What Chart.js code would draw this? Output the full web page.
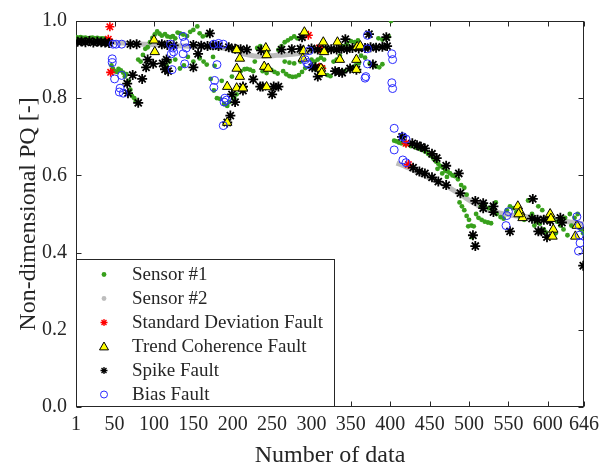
<!DOCTYPE html>
<html><head><meta charset="utf-8">
<script src="https://cdn.jsdelivr.net/npm/chart.js@4.4.0/dist/chart.umd.min.js"></script>
<style>html,body{margin:0;padding:0;background:#fff;}canvas{display:block;}</style>
</head><body>
<canvas id="c" width="605" height="470"></canvas>
<script>
const xTicks = [1,50,100,150,200,250,300,350,400,450,500,550,600,646];
const yTicks = [0,0.2,0.4,0.6,0.8,1.0];
const legendLabels = ['Sensor #1','Sensor #2','Standard Deviation Fault','Trend Coherence Fault','Spike Fault','Bias Fault'];

const sensor1 = [
[1,0.958],[4,0.957],[7,0.958],[10,0.956],[13,0.957],[16,0.955],[19,0.956],[22,0.957],[25,0.955],[28,0.956],[31,0.954],[34,0.955],[37,0.954],[40,0.953],[43,0.952],
[46,0.885],[48,0.876],[50,0.87],[53,0.868],[55,0.876],[58,0.872],[61,0.866],[63,0.856],[65,0.862],[68,0.845],[70,0.822],[72,0.806],[75,0.8],[77,0.792],
[80,0.9],[83,0.895],[86,0.912],[89,0.928],[92,0.932],[95,0.945],[98,0.956],[101,0.965],[104,0.973],[107,0.967],[110,0.962],[114,0.966],[117,0.96],[121,0.958],[124,0.961],[127,0.955],[130,0.97],[133,0.968],[137,0.965],[142,0.961],[146,0.972],[150,0.977],[155,0.986],[158,0.968],[162,0.96],[167,0.963],[171,0.97],
[112,0.89],[116,0.885],[120,0.895],[127,0.9],[133,0.877],[138,0.885],[143,0.907],[150,0.895],[158,0.903],[163,0.895],[167,0.887],[175,0.907],[177,0.884],
[172,0.85],[176,0.82],[180,0.8],[184,0.798],[186,0.845],[189,0.785],[193,0.78],[196,0.79],[199,0.856],[202,0.8],[205,0.81],
[210,0.87],[215,0.875],[218,0.876],[222,0.874],[226,0.87],[228,0.895],[231,0.93],[235,0.935],[240,0.925],[244,0.92],[249,0.873],[253,0.868],[257,0.864],[238,0.87],[243,0.865],
[258,0.925],[262,0.935],[266,0.945],[270,0.95],[274,0.955],[278,0.96],[282,0.955],[264,0.87],[268,0.862],[272,0.857],[276,0.855],[280,0.856],[284,0.86],[288,0.868],[292,0.878],[266,0.895],[272,0.892],[278,0.89],[286,0.895],
[300,0.9],[304,0.895],[308,0.9],[312,0.905],[316,0.9],[320,0.86],[324,0.857],[328,0.895],[332,0.9],[336,0.91],[340,0.935],[345,0.94],[350,0.948],[355,0.945],[359,0.95],[363,0.91],[368,0.905],[374,0.89],[378,0.888],[382,0.882],[386,0.88],[390,0.888],[385,0.955],[390,0.952],[394,0.955],[398,0.96],[401,1.0],[342,0.87],[348,0.875],[352,0.88],[356,0.885],[360,0.89],[330,0.925],[336,0.93],[305,0.875],[310,0.87],[315,0.88],
[405,0.69],[408,0.688],[411,0.685],[414,0.683],[420,0.68],[426,0.676],[432,0.672],[438,0.668],[444,0.662],[448,0.656],[452,0.65],[455,0.643],[458,0.636],[461,0.63],[464,0.624],[467,0.62],[470,0.612],[473,0.61],[476,0.605],[479,0.6],[482,0.598],[486,0.59],[490,0.575],[494,0.568],[497,0.55],[460,0.617],[466,0.605],[472,0.596],
[488,0.53],[491,0.52],[494,0.51],[497,0.495],[500,0.485],[503,0.47],[506,0.468],[499,0.468],[504,0.44],[509,0.5],[512,0.49],[516,0.485],[520,0.48],[524,0.478],[528,0.476],[515,0.52],[520,0.525],[525,0.515],[530,0.51],[535,0.5],[540,0.492],[544,0.488],[548,0.51],[552,0.52],[556,0.515],[534,0.53],
[560,0.505],[565,0.49],[570,0.485],[575,0.535],[580,0.5],[585,0.48],[590,0.475],[595,0.46],[598,0.452],[602,0.49],[607,0.485],[612,0.48],[616,0.47],[620,0.46],[625,0.445],[630,0.47],[634,0.49],[638,0.5],[642,0.46],[645,0.45],[610,0.45],[622,0.49],[628,0.5],[583,0.47],[588,0.52],[593,0.51]
];

const sensor2 = [
[1,0.952],[6,0.951],[11,0.95],[16,0.95],[21,0.949],[26,0.949],[31,0.948],[36,0.947],[41,0.946],[46,0.945],[51,0.944],[56,0.943],[61,0.943],[66,0.942],[71,0.942],[76,0.941],[81,0.941],[86,0.94],[91,0.94],[96,0.939],[101,0.939],[106,0.938],[111,0.938],[116,0.937],[121,0.937],[126,0.936],[131,0.936],[136,0.935],[141,0.935],[146,0.934],[151,0.934],[156,0.934],[161,0.933],[166,0.933],[171,0.932],[176,0.932],[181,0.931],[186,0.93],[191,0.929],[196,0.927],[201,0.925],[206,0.921],[211,0.917],[216,0.914],[221,0.912],[226,0.91],[231,0.909],[236,0.909],[241,0.909],[246,0.91],[251,0.91],[256,0.911],[261,0.911],[266,0.912],[271,0.913],[276,0.914],[281,0.915],[286,0.916],[291,0.918],[296,0.92],[301,0.922],[306,0.923],[311,0.924],[316,0.925],[321,0.926],[326,0.927],[331,0.927],[336,0.928],[341,0.929],[346,0.929],[351,0.93],[356,0.93],[361,0.931],[366,0.931],[371,0.932],[376,0.932],[381,0.933],[386,0.933],[391,0.934],[396,0.934],[400,0.935],
[404,null],
[408,0.632],[412,0.629],[416,0.626],[420,0.622],[424,0.619],[428,0.615],[432,0.611],[436,0.607],[440,0.603],[444,0.599],[448,0.595],[452,0.592],[456,0.588],[460,0.584],[464,0.58],[468,0.576],[472,0.572],[476,0.567],[480,0.562],[484,0.557],[488,0.552],[492,0.547],[496,0.541],[500,0.536],[504,0.531],[508,0.526],[512,0.521],[516,0.517],[520,0.513],[524,0.51],[528,0.508],[532,0.506],[536,0.504],[540,0.502],[544,0.5],[548,0.499],[552,0.497],[556,0.496],[560,0.495],[566,0.494],[572,0.493],[578,0.492],[584,0.491],[590,0.49],[596,0.489],[602,0.487],[608,0.486],[614,0.484],[620,0.482],[626,0.48],[632,0.478],[638,0.476],[646,0.474]
];

const stdFault = [[42,0.953],[44,0.985],[45,0.867],[296,0.963],[310,0.93],[312,0.925],[310,0.88],[313,0.877],[420,0.683],[423,0.628]];

const trendFault = [[100,0.95],[101,0.92],[193,0.83],[193,0.737],[205,0.877],[205,0.925],[209,0.903],[209,0.856],[205,0.826],[213,0.826],[242,0.93],[243,0.912],[240,0.882],[245,0.877],[243,0.829],[291,0.971],[290,0.922],[289,0.903],[315,0.945],[333,0.945],[316,0.92],[336,0.9],[358,0.933],[362,0.935],[357,0.9],[357,0.874],[312,0.877],[313,0.866],
[562,0.52],[565,0.505],[568,0.49],[563,0.5],[603,0.5],[604,0.488],[607,0.46],[606,0.442],[637,0.47],[635,0.442]];

const spikeFault = [
[3,0.946],[8,0.947],[13,0.945],[18,0.948],[23,0.944],[28,0.946],[33,0.945],[38,0.944],[43,0.943],[70,0.94],[78,0.94],[110,0.94],[117,0.938],[125,0.937],[150,0.938],[160,0.936],[168,0.935],[175,0.937],[182,0.935],[195,0.932],[203,0.928],[210,0.927],[218,0.926],[236,0.924],[262,0.926],[275,0.927],[286,0.928],[300,0.929],[308,0.926],[318,0.928],[325,0.927],[332,0.926],[338,0.928],[345,0.927],[352,0.93],[360,0.929],[368,0.93],[375,0.932],[382,0.931],[390,0.933],[396,0.935],
[66,0.838],[67,0.813],[80,0.788],[73,0.86],[85,0.85],[92,0.9],[90,0.88],[99,0.889],[111,0.89],[114,0.875],[118,0.87],[116,0.9],[150,0.88],[156,0.915],[171,0.968],[199,0.81],[203,0.79],[197,0.755],[193,0.737],[213,0.83],[213,0.82],[226,0.849],[235,0.83],[238,0.83],[250,0.81],[252,0.83],[258,0.83],[288,0.958],[308,0.856],[301,0.88],[305,0.88],[330,0.87],[335,0.868],[339,0.866],[343,0.953],[349,0.877],[357,0.874],[378,0.887],[373,0.966],[395,0.958],
[415,0.7],[428,0.683],[434,0.678],[439,0.674],[444,0.67],[453,0.656],[459,0.645],[471,0.625],[487,0.605],
[429,0.62],[437,0.61],[444,0.605],[453,0.595],[461,0.584],[471,0.575],[489,0.554],[508,0.534],[518,0.528],[518,0.515],[531,0.52],[531,0.505],[581,0.539],[580,0.488],[587,0.485],[595,0.485],[603,0.482],[616,0.49],[618,0.478],[505,0.445],[508,0.417],[552,0.455],[588,0.455],[592,0.455],[599,0.44],[645,0.366]
];

const biasFault = [
[48,0.94],[52,0.94],[59,0.94],[47,0.902],[47,0.892],[50,0.85],[59,0.859],[57,0.826],[56,0.816],[61,0.813],
[121,0.94],[124,0.93],[125,0.92],[122,0.915],[137,0.96],[139,0.945],[141,0.93],[137,0.915],[123,0.874],[139,0.889],
[176,0.94],[182,0.942],[188,0.94],[180,0.887],[177,0.846],[176,0.828],[190,0.8],[189,0.79],[192,0.795],[188,0.729],
[292,0.9],[294,0.892],[296,0.887],[297,0.923],[371,0.963],[371,0.928],[371,0.889],[369,0.856],[368,0.852],[402,0.915],[403,0.9],[402,0.84],[403,0.825],[405,0.722],[405,0.666],[416,0.7],[420,0.694],[416,0.64],[420,0.633],
[550,0.506],[548,0.496],[547,0.47],[637,0.493],[640,0.47],[640,0.445],[641,0.425],[639,0.404]
];

const pts = a => a.map(p => ({x:p[0], y:p[1]}));
const FONT = "'Liberation Serif','Times New Roman',serif";
const TXT = '#262626';

const framePlugin = {
  id:'frame',
  beforeDatasetsDraw(chart){
    const {ctx, chartArea:a, scales:{x,y}} = chart;
    ctx.save();
    ctx.strokeStyle = TXT; ctx.lineWidth = 1;
    const L = Math.round(a.left)+0.5, R = Math.round(a.right)-0.5, T = Math.round(a.top)+0.5, B = Math.round(a.bottom)-0.5;
    ctx.strokeRect(L, T, R-L, B-T);
    ctx.beginPath();
    xTicks.forEach(v => { const px = Math.round(x.getPixelForValue(v))+0.5; ctx.moveTo(px,B); ctx.lineTo(px,B-5); ctx.moveTo(px,T); ctx.lineTo(px,T+5); });
    yTicks.forEach(v => { const py = Math.round(y.getPixelForValue(v))+0.5; ctx.moveTo(L,py); ctx.lineTo(L+5,py); ctx.moveTo(R,py); ctx.lineTo(R-5,py); });
    ctx.stroke();
    ctx.restore();
  },
  afterDraw(chart){
    const {ctx, chartArea:a} = chart;
    ctx.save();
    ctx.fillStyle = TXT;
    ctx.font = "24px " + FONT;
    ctx.textAlign = 'center'; ctx.textBaseline = 'alphabetic';
    ctx.fillText('Number of data', (a.left+a.right)/2, 462);
    ctx.translate(29, (a.top+a.bottom)/2);
    ctx.rotate(-Math.PI/2);
    ctx.textBaseline = 'middle';
    ctx.fillText('Non-dimensional PQ [-]', 0, 0);
    ctx.restore();
  }
};

function drawMarker(ctx, kind, cx, cy){
  ctx.save();
  if(kind===0){ ctx.fillStyle='#38a01c'; ctx.beginPath(); ctx.arc(cx,cy,2.4,0,Math.PI*2); ctx.fill(); }
  else if(kind===1){ ctx.fillStyle='#bdbdbd'; ctx.beginPath(); ctx.arc(cx,cy,2.4,0,Math.PI*2); ctx.fill(); }
  else if(kind===2||kind===4){
    ctx.strokeStyle = kind===2?'#ff0000':'#000000'; ctx.lineWidth=1.3; const r=3.5; const d=r*0.7071;
    ctx.beginPath(); ctx.moveTo(cx-r,cy);ctx.lineTo(cx+r,cy);ctx.moveTo(cx,cy-r);ctx.lineTo(cx,cy+r);
    ctx.moveTo(cx-d,cy-d);ctx.lineTo(cx+d,cy+d);ctx.moveTo(cx-d,cy+d);ctx.lineTo(cx+d,cy-d);ctx.stroke();
  }
  else if(kind===3){ ctx.fillStyle='#ffff00'; ctx.strokeStyle='#000'; ctx.lineWidth=1; const r=4.5;
    ctx.beginPath(); ctx.moveTo(cx,cy-r); ctx.lineTo(cx+r,cy+r*0.75); ctx.lineTo(cx-r,cy+r*0.75); ctx.closePath(); ctx.fill(); ctx.stroke(); }
  else { ctx.strokeStyle='#2a2aff'; ctx.lineWidth=1; ctx.beginPath(); ctx.arc(cx,cy,3.5,0,Math.PI*2); ctx.stroke(); }
  ctx.restore();
}

const legendPlugin = {
  id:'customLegend',
  afterDraw(chart){
    const {ctx, chartArea:a} = chart;
    ctx.save();
    const L = Math.round(a.left)+0.5, B = Math.round(a.bottom)-0.5;
    const T = 259.5, R = 334.5;
    ctx.fillStyle='#fff'; ctx.fillRect(L, T, R-L, B-T);
    ctx.strokeStyle=TXT; ctx.lineWidth=1; ctx.strokeRect(L, T, R-L, B-T);
    ctx.font = "19px " + FONT; ctx.fillStyle = TXT; ctx.textAlign='left'; ctx.textBaseline='middle';
    legendLabels.forEach((lab,i) => {
      const cy = 274.5 + 24*i;
      drawMarker(ctx, i, 104, cy);
      ctx.fillText(lab, 132, cy+1);
    });
    ctx.restore();
  }
};

new Chart(document.getElementById('c').getContext('2d'), {
  type:'scatter',
  data:{datasets:[
    {label:legendLabels[5], data:pts(biasFault), pointStyle:'circle', pointRadius:4, pointBackgroundColor:'rgba(0,0,0,0)', pointBorderColor:'#2a2aff', pointBorderWidth:1, order:1},
    {label:legendLabels[3], data:pts(trendFault), pointStyle:'triangle', pointRadius:5.5, pointBackgroundColor:'#ffff00', pointBorderColor:'#000', pointBorderWidth:1, order:2},
    {label:legendLabels[4], data:pts(spikeFault), pointStyle:'star', pointRadius:5, pointBorderColor:'#000', pointBackgroundColor:'#000', pointBorderWidth:1.8, order:3},
    {label:legendLabels[2], data:pts(stdFault), pointStyle:'star', pointRadius:4.5, pointBorderColor:'#ff0000', pointBackgroundColor:'#ff0000', pointBorderWidth:1.6, order:4},
    {label:legendLabels[0], data:pts(sensor1), pointRadius:2.4, pointBackgroundColor:'#38a01c', pointBorderWidth:0, order:5},
    {label:legendLabels[1], data:pts(sensor2), showLine:true, spanGaps:false, borderColor:'#bdbdbd', borderWidth:5, pointRadius:0, order:6}
  ]},
  options:{
    responsive:false, animation:false, devicePixelRatio:1,
    layout:{padding:{left:0,right:21,top:13,bottom:0}},
    plugins:{legend:{display:false}, tooltip:{enabled:false}},
    scales:{
      x:{type:'linear', min:1, max:646,
        afterBuildTicks:s=>{s.ticks = xTicks.map(v=>({value:v}));},
        afterFit:s=>{s.height=63;},
        grid:{display:false, drawTicks:false}, border:{display:false},
        ticks:{font:{family:FONT,size:20}, color:TXT, padding:6, maxRotation:0, autoSkip:false, callback:v=>String(v)}},
      y:{type:'linear', min:0, max:1,
        afterBuildTicks:s=>{s.ticks = yTicks.map(v=>({value:v}));},
        afterFit:s=>{s.width=76;},
        grid:{display:false, drawTicks:false}, border:{display:false},
        ticks:{font:{family:FONT,size:20}, color:TXT, padding:9, callback:v=>v.toFixed(1)}}
    }
  },
  plugins:[framePlugin, legendPlugin]
});
</script>
</body></html>
